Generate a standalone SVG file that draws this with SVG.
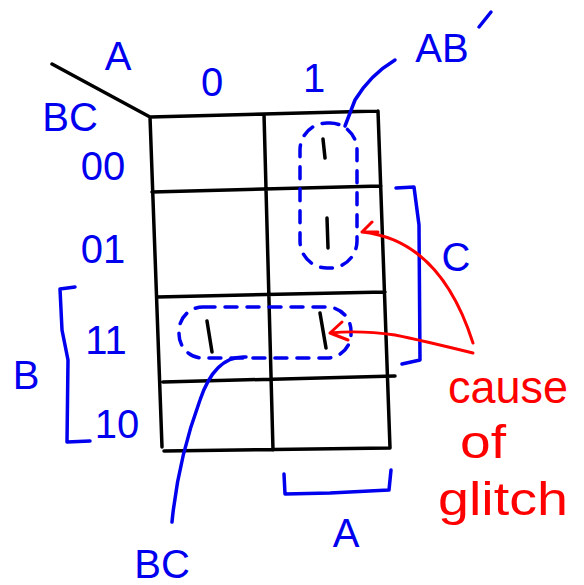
<svg xmlns="http://www.w3.org/2000/svg" width="584" height="585" viewBox="0 0 584 585">
<style>
.grid{stroke:#000;stroke-width:3.5;fill:none;stroke-linecap:round}
.one{stroke:#000;stroke-width:3.5;fill:none;stroke-linecap:round}
.blue{stroke:#0000ee;stroke-width:3.5;fill:none;stroke-linecap:round;stroke-linejoin:round}
.dash{stroke:#0000ee;stroke-width:3.5;fill:none;stroke-dasharray:12 10;stroke-linecap:round}
.red{stroke:#ff0000;stroke-width:3;fill:none;stroke-linecap:round;stroke-linejoin:round}
.bt{fill:#0000ee;font-family:"Liberation Sans",Arial,sans-serif;font-size:40px}
.rt{fill:#ff0000;font-family:"Liberation Sans",Arial,sans-serif;font-size:46px}
</style>
<rect width="584" height="585" fill="#fff"/>
<g id="kmap">
<path class="grid" d="M52 64 L150 117 M150 117 L378 111 M150 117 L162 447 M264 114 L273 450 M378 111 L390 448 M152 192 L381 186 M157 297 L385 292 M163 382 L395 376 M164 451 L390 448"/>
<path class="one" d="M323 139 L325 158 M327 218 L328 248 M207 321 L212 352 M320 313 L326 348"/>
</g>
<g id="labels">
<text class="bt" x="118" y="70" text-anchor="middle">A</text>
<text class="bt" x="212" y="96" text-anchor="middle" font-size="32">0</text>
<text class="bt" x="314" y="92" text-anchor="middle" font-size="32">1</text>
<text class="bt" x="70" y="131" text-anchor="middle">BC</text>
<text class="bt" x="103" y="180" text-anchor="middle" font-size="34">00</text>
<text class="bt" x="103" y="263" text-anchor="middle" font-size="34">01</text>
<text class="bt" x="106" y="354" text-anchor="middle" font-size="40">11</text>
<text class="bt" x="117" y="438" text-anchor="middle" font-size="38">10</text>
<text class="bt" x="26" y="389" text-anchor="middle">B</text>
<text class="bt" x="456" y="271" text-anchor="middle">C</text>
<text class="bt" x="346" y="547" text-anchor="middle">A</text>
<text class="bt" x="162" y="578" text-anchor="middle">BC</text>
<text class="bt" x="442" y="62" text-anchor="middle">AB</text>
<path class="blue" d="M479 27 L491 12"/>
</g>
<g id="groups">
<rect class="dash" x="300" y="123" width="57" height="145" rx="27"/>
<rect class="dash" x="179" y="307" width="172" height="51" rx="24"/>
</g>
<g id="brackets">
<path class="blue" d="M75 287 L60 289 L62 330 L68 360 L67 442 L90 441"/>
<path class="blue" d="M396 188 L414 187 L419 225 L420 360 L402 364"/>
<path class="blue" d="M284 474 L285 494 L330 493 L389 490 L391 470"/>
</g>
<g id="connectors">
<path class="blue" d="M395 60 Q370 75 355 100 L345 126"/>
<path class="blue" d="M246 357 Q215 355 200 400 Q178 460 172 522"/>
<path class="red" d="M473 343 Q440 240 362 232 M362 232 L372 222 M362 232 L378 232"/>
<path class="red" d="M473 353 Q420 340 395 335 Q360 330 330 333 M330 333 L342 322 M330 333 L348 340"/>
</g>
<g id="note">
<text class="rt" x="448" y="403" textLength="120" lengthAdjust="spacingAndGlyphs">cause</text>
<text class="rt" x="460" y="458" textLength="46" lengthAdjust="spacingAndGlyphs">of</text>
<text class="rt" x="438" y="515" textLength="130" lengthAdjust="spacingAndGlyphs">glitch</text>
</g>
</svg>
